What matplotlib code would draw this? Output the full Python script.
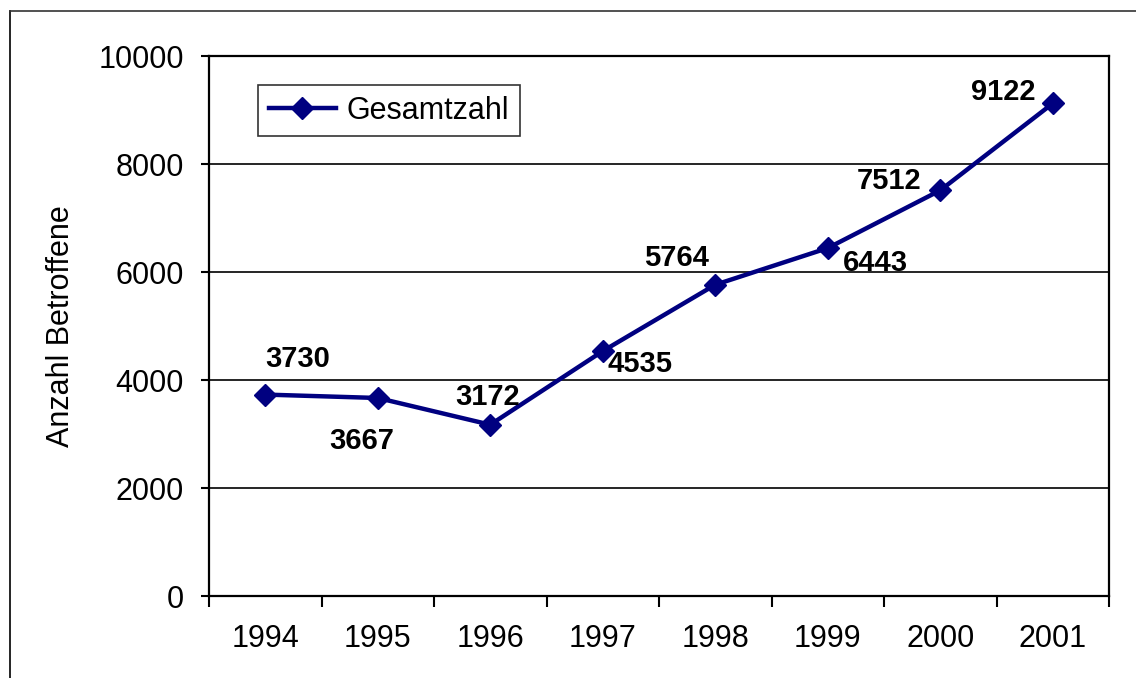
import matplotlib.pyplot as plt
from matplotlib.lines import Line2D

plt.rcParams["font.family"] = ["Liberation Sans", "DejaVu Sans"]

YEARS = ["1994", "1995", "1996", "1997", "1998", "1999", "2000", "2001"]
TOTAL = [3730, 3667, 3172, 4535, 5764, 6443, 7512, 9122]
# label offsets (px, screen coords: +x right, +y up)
LABEL_OFFSETS = [(32, 36), (-16, -43), (-3, 28), (37, -13),
                 (-39, 27), (48, -15), (-51, 9), (-49, 11)]
NAVY = "#000080"

fig = plt.figure(figsize=(11.36, 6.78), dpi=100)
ax = fig.add_axes([209 / 1136, 1 - 596 / 678, 900 / 1136, 540 / 678])

x = list(range(len(YEARS)))
ax.plot(x, TOTAL, color=NAVY, lw=3.2, marker="D", ms=11, mec=NAVY, mfc=NAVY,
        label="Gesamtzahl", zorder=3)

for xi, v, (dx, dy) in zip(x, TOTAL, LABEL_OFFSETS):
    ax.annotate(str(v), (xi, v), xytext=(dx * 0.72, dy * 0.72),
                textcoords="offset points", ha="center", va="center",
                fontsize=21, fontweight="bold", color="black")

ax.set_xlim(-0.5, len(YEARS) - 0.5)
ax.set_ylim(0, 10000)
ax.set_yticks(range(0, 10001, 2000))
ax.set_xticks([i - 0.5 for i in range(len(YEARS) + 1)])
ax.set_xticklabels([])
ax.set_xticks(x, minor=True)
ax.set_xticklabels(YEARS, minor=True)
ax.tick_params(axis="x", which="major", length=8, width=1.5, direction="out")
ax.tick_params(axis="x", which="minor", length=0, pad=20, labelsize=22)
ax.tick_params(axis="y", length=6, width=1.5, pad=12, labelsize=22)

ax.grid(axis="y", color="black", lw=1.2)
ax.set_axisbelow(True)
for s in ax.spines.values():
    s.set_linewidth(1.6)
    s.set_color("black")

ax.set_ylabel("Anzahl Betroffene", fontsize=22)
ax.yaxis.set_label_coords(-0.148, 0.5)

leg = ax.legend(loc="upper left", bbox_to_anchor=(49 / 900, 1 - 29 / 540),
                fontsize=22, fancybox=False, framealpha=1, edgecolor="#333333",
                handlelength=2.2, handletextpad=0.35, borderpad=0.35,
                borderaxespad=0)
leg.get_frame().set_linewidth(1.2)

# outer chart border (left and top visible)
fig.add_artist(Line2D([10 / 1136, 10 / 1136], [0, 1 - 11 / 678],
                      transform=fig.transFigure, color="black", lw=1.2))
fig.add_artist(Line2D([10 / 1136, 1], [1 - 11 / 678, 1 - 11 / 678],
                      transform=fig.transFigure, color="#333333", lw=1.2))

fig.savefig("out.png", dpi=100)
